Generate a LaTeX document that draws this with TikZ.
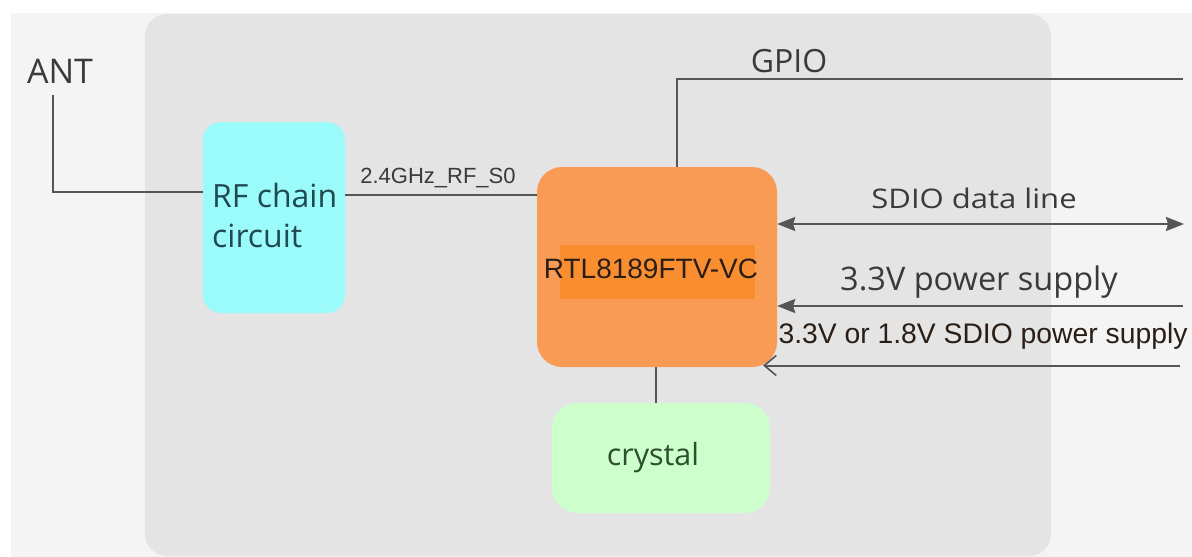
\documentclass[tikz,border=0pt]{standalone}
\usepackage{fontspec}
\setmainfont{Liberation Sans}
\newfontfamily\seg{Open Sans}
\newfontfamily\segw[FakeStretch=1.15]{Open Sans}
\usetikzlibrary{arrows.meta}
\definecolor{bgout}{HTML}{F4F4F4}
\definecolor{bgin}{HTML}{E4E4E4}
\definecolor{cyanbox}{HTML}{9BFAFA}
\definecolor{orangebox}{HTML}{FA9B55}
\definecolor{orangehl}{HTML}{F98E30}
\definecolor{greenbox}{HTML}{CCFFCC}
\definecolor{wirec}{HTML}{555555}
\definecolor{txtc}{HTML}{3A3A3A}
\definecolor{rftxt}{HTML}{1F4A50}
\definecolor{crytxt}{HTML}{2E4F2E}
\definecolor{darktxt}{HTML}{2A1E16}
\tikzset{
  wire/.style={draw=wirec, line width=2pt},
  blockbox/.style={draw=none, inner sep=0pt},
  lbl/.style={inner sep=0pt, anchor=base, text=txtc},
  filltip/.tip={Stealth[length=18pt,width=14pt,inset=2pt]},
  opentip/.tip={Straight Barb[length=12pt,width=20pt,line width=1.6pt]}
}
\begin{document}
\begin{tikzpicture}[x=1pt,y=-1pt]
\useasboundingbox (0,0) rectangle (1192,557);
\fill[white] (0,0) rectangle (1192,557);
\fill[bgout] (11,13) rectangle (1192,557);
\fill[bgin, rounded corners=22pt] (145,14) rectangle (1051,556);

% blocks
\node[blockbox, fill=cyanbox, rounded corners=18pt, minimum width=142pt, minimum height=191pt] (rf) at (274,217.5) {};
\node[lbl, anchor=base west, text=rftxt, font=\seg\fontsize{32}{40}\selectfont] (rft1) at (212,207) {RF chain};
\node[lbl, anchor=base west, text=rftxt, font=\seg\fontsize{32}{40}\selectfont] (rft2) at (212,247) {circuit};

\node[blockbox, fill=orangebox, rounded corners=25pt, minimum width=240pt, minimum height=200pt] (rtl) at (657,267) {};
\fill[orangehl] (560,245) rectangle (755,299);
\node[lbl, text=darktxt, font=\fontsize{28}{32}\selectfont] (rtlt) at (651,278) {RTL8189FTV-VC};

\node[blockbox, fill=greenbox, rounded corners=25pt, minimum width=218pt, minimum height=110pt] (xtal) at (661,458) {};
\node[lbl, text=crytxt, font=\seg\fontsize{30.5}{36}\selectfont] (xtalt) at (653,465) {crystal};

% ANT
\node[lbl, font=\seg\fontsize{34}{40}\selectfont] (ant) at (60,83) {ANT};
\draw[wire] ([xshift=-7pt,yshift=-12pt]ant.base) |- ([yshift=25.5pt]rf.west);

% RF -> RTL
\draw[wire] ([yshift=22.5pt]rf.east) -- ([yshift=22.5pt]rf.east -| rtl.west);
\node[lbl, font=\fontsize{22}{26}\selectfont, text=txtc] (rfsig) at (438,183) {2.4GHz\_RF\_S0};

% GPIO
\coordinate (gpioend) at (1183,79);
\draw[wire] ([xshift=20pt]rtl.north) |- (gpioend);
\node[lbl, font=\seg\fontsize{32}{38}\selectfont] (gpio) at (789,72) {GPIO};

% crystal
\draw[wire] ([xshift=-1pt]rtl.south) -- ([xshift=-1pt]rtl.south |- xtal.north);

% SDIO data line
\coordinate (sdioend) at (1184,224);
\draw[wire, {filltip}-{filltip}] (rtl.east |- sdioend) -- (sdioend);
\node[lbl, font=\segw\fontsize{27}{32}\selectfont, text=txtc] (sdiot) at (974,208) {SDIO data line};

% 3.3V power supply
\coordinate (p33) at (1183,306);
\draw[wire, -{filltip}] (p33) -- (rtl.east |- p33);
\node[lbl, font=\seg\fontsize{32.5}{38}\selectfont] (p33t) at (979,290) {3.3V power supply};

% SDIO power supply
\coordinate (psd) at (1180,365.5);
\coordinate (psdtip) at (763,365.5);
\draw[wire, -{opentip}] (psd) -- (psdtip);
\node[lbl, font=\fontsize{28.3}{32}\selectfont, text=darktxt] (psdt) at (983,343) {3.3V or 1.8V SDIO power supply};
\end{tikzpicture}
\end{document}
